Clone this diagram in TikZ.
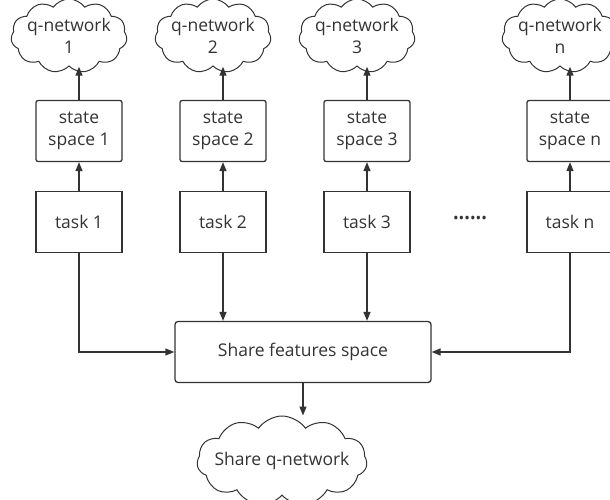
\documentclass[tikz,border=0pt]{standalone}
\usepackage{fontspec}
\setmainfont{Open Sans}
\usetikzlibrary{shapes, arrows.meta}
\definecolor{ink}{HTML}{333333}

\begin{document}
\begin{tikzpicture}[x=1pt, y=-1pt,
box_style/.style={rectangle, draw=ink, line width=1.3pt, minimum width=86pt, minimum height=61pt, text=ink, align=center, inner sep=0pt, font=\fontsize{17.5}{22}\selectfont},
state_style/.style={box_style, rounded corners=2pt},
share_style/.style={box_style, rounded corners=3pt, minimum width=256pt},
cloud_style/.style={cloud, cloud puffs=11, cloud puff arc=110, cloud ignores aspect, draw=ink, line width=1pt, text=ink, align=center, inner xsep=-10pt, inner ysep=-6pt, minimum width=116pt, minimum height=74pt, font=\fontsize{17.5}{22}\selectfont},
edge_style/.style={draw=ink, line width=1.3pt, -{Triangle[length=9pt, width=7pt]}},
]

\useasboundingbox (0,0) rectangle (610,500);

% one column for each task
\foreach \i/\x in {1/79, 2/223, 3/367, n/570}{
	\node[box_style] at (\x,222) (t\i) {task \i};
	\node[state_style] at (\x,131) (s\i) {state\\space \i};
	\node[cloud_style] at (\x-10,36) (q\i) {q-network\\\i};
	\draw[edge_style] (t\i.north) -- (s\i.south);
	\draw[edge_style] (s\i.north) -- (s\i.north |- q\i.south);
}

\node[text=ink, font=\fontsize{15}{17}\selectfont] at (470,220) (dots) {••••••};

\node[share_style] at (303,352) (share) {Share features space};
\node[cloud_style, inner xsep=-30pt, minimum width=170pt, minimum height=90pt] at (282,461) (sq) {Share q-network};

\draw[edge_style] (t1.south) |- (share.west);
\draw[edge_style] (t2.south) -- (t2.south |- share.north);
\draw[edge_style] (t3.south) -- (t3.south |- share.north);
\draw[edge_style] (tn.south) |- (share.east);
\draw[edge_style] (share.south) -- (share.south |- sq.north);

\end{tikzpicture}
\end{document}
